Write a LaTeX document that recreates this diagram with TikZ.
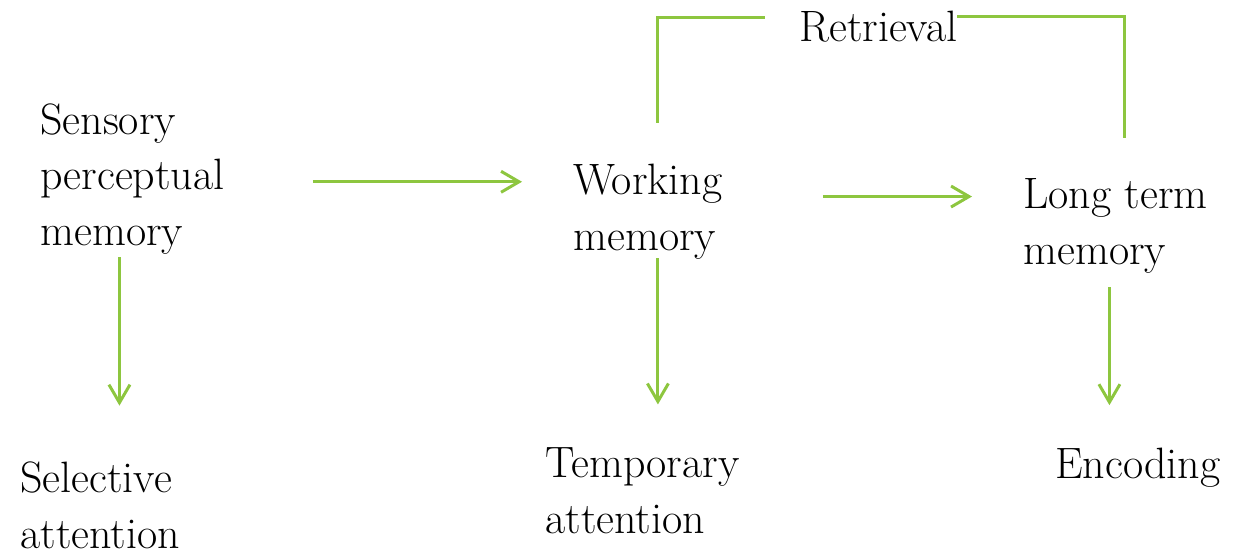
\documentclass[tikz,border=0pt]{standalone}
\usepackage{tikz}
\usepackage{xcolor}
\usetikzlibrary{arrows.meta}

\definecolor{leafgreen}{RGB}{141,198,63}

\begin{document}
\begin{tikzpicture}[x=0.02cm,y=-0.02cm,
		label text/.style={anchor=base west,inner sep=0pt,align=left,
			font=\fontsize{25}{31.5}\selectfont},
		flow/.style={draw=leafgreen,line width=1.7pt,
			-{Straight Barb[length=0.36cm,width=0.42cm,line width=1.7pt]}},
		link/.style={draw=leafgreen,line width=1.7pt}]
		\useasboundingbox (0,0) rectangle (1243,554);
		
		% Place the labels (base is the last line)
		\node[label text] (sensory) at (40,245) {Sensory\\perceptual\\memory};
		\node[label text] (working) at (573,250) {Working\\memory};
		\node[label text] (longterm) at (1023,264) {Long term\\memory};
		\node[label text] (selective) at (20,548) {Selective\\attention};
		\node[label text] (temporary) at (545,533) {Temporary\\attention};
		\node[label text] (encoding) at (1055,478) {Encoding};
		\node[label text] (retrieval) at (799,42) {Retrieval};
		
		% Draw arrows between the stores
		\draw[flow,shorten >=1.02cm] ([shift={(88,3)}]sensory.east) coordinate (h1) -- (h1 -| working.west);
		\draw[flow,shorten >=1.02cm] ([shift={(100,-15)}]working.east) coordinate (h2) -- (h2 -| longterm.west);
		
		% Draw arrows down to the processes
		\draw[flow] ([shift={(-13,3)}]sensory.south) coordinate (d1) -- ([yshift=1.12cm]d1 |- selective.north);
		\draw[flow] ([shift={(10,-1)}]working.south) coordinate (d2) -- ([yshift=0.86cm]d2 |- temporary.north);
		\draw[flow] ([shift={(-6,14)}]longterm.south) coordinate (d3) -- ([yshift=0.84cm]d3 |- encoding.north);
		
		% Draw the retrieval bracket
		\draw[link] ([shift={(10,-41)}]working.north) |- ([xshift=-0.68cm,yshift=-0.13cm]retrieval.north west);
		\draw[link] ([yshift=-0.11cm]retrieval.north east) -| ([shift={(9,-40)}]longterm.north);
	\end{tikzpicture}
\end{document}
